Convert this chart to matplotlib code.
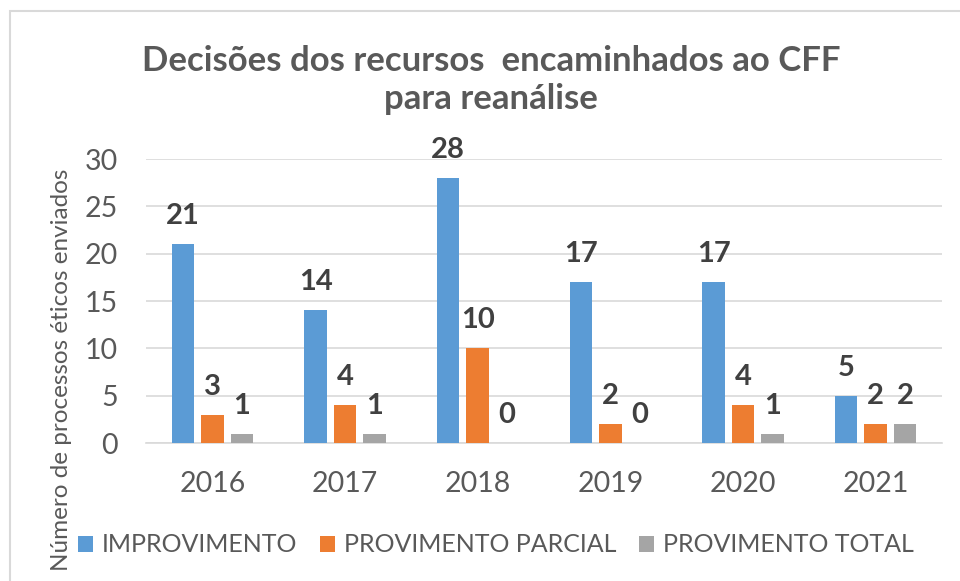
import numpy as np
import matplotlib.pyplot as plt
from matplotlib.patches import Rectangle

# Dados
anos = ['2016', '2017', '2018', '2019', '2020', '2021']
improvimento = [21, 14, 28, 17, 17, 5]
provimento_parcial = [3, 4, 10, 2, 4, 2]
provimento_total = [1, 1, 0, 0, 1, 2]
series = ['IMPROVIMENTO', 'PROVIMENTO PARCIAL', 'PROVIMENTO TOTAL']
cores = ['#5B9BD5', '#ED7D31', '#A5A5A5']

plt.rcParams['font.family'] = ['Lato', 'DejaVu Sans']
texto = '#595959'

fig = plt.figure(figsize=(9.6, 5.81), dpi=100)
ax = fig.add_axes([146 / 960, 1 - 443 / 581, 796 / 960, 284 / 581])

x = np.arange(len(anos))
largura = 0.17
passo = 0.222
valores = [improvimento, provimento_parcial, provimento_total]
for i, (vals, nome, cor) in enumerate(zip(valores, series, cores)):
    pos = x + (i - 1) * passo
    ax.bar(pos, vals, largura, color=cor, label=nome, zorder=3)
    for p, v in zip(pos, vals):
        ax.annotate(str(v), (p, v), xytext=(0, 28), textcoords='offset pixels',
                    ha='center', va='center', fontsize=21, fontweight='bold',
                    color='#404040')

ax.set_xlim(-0.5, len(anos) - 0.5)
ax.set_ylim(0, 30)
ax.set_yticks(range(0, 31, 5))
ax.set_xticks(x)
ax.set_xticklabels(anos)
ax.tick_params(axis='both', length=0, labelsize=20.5, colors=texto)
ax.tick_params(axis='y', pad=20)
ax.tick_params(axis='x', pad=20)
ax.grid(axis='y', color='#D9D9D9', linewidth=1.2, zorder=0)
for lado in ['top', 'right', 'left']:
    ax.spines[lado].set_visible(False)
ax.spines['bottom'].set_color('#D9D9D9')
ax.spines['bottom'].set_linewidth(1.2)

fig.text(491 / 960, 1 - 80 / 581,
         'Decisões dos recursos  encaminhados ao CFF\npara reanálise',
         ha='center', va='center', fontsize=25, fontweight='bold',
         color=texto, linespacing=1.22)

fig.text(62 / 960, 1 - 370 / 581, 'Número de processos éticos enviados',
         rotation=90, ha='center', va='center', fontsize=17.5, color=texto)

fig.legend(loc='center', bbox_to_anchor=(496 / 960, 1 - 545 / 581), ncol=3,
           frameon=False, fontsize=18, labelcolor=texto, handlelength=0.6,
           handleheight=0.6, handletextpad=0.36, columnspacing=0.9)

# moldura do gráfico
fig.patches.append(Rectangle((10 / 960, -0.1), 1.1, 1 - 11 / 581 + 0.1,
                             transform=fig.transFigure, fill=False,
                             edgecolor='#D9D9D9', linewidth=1.5))

fig.savefig('out.png', dpi=100)
